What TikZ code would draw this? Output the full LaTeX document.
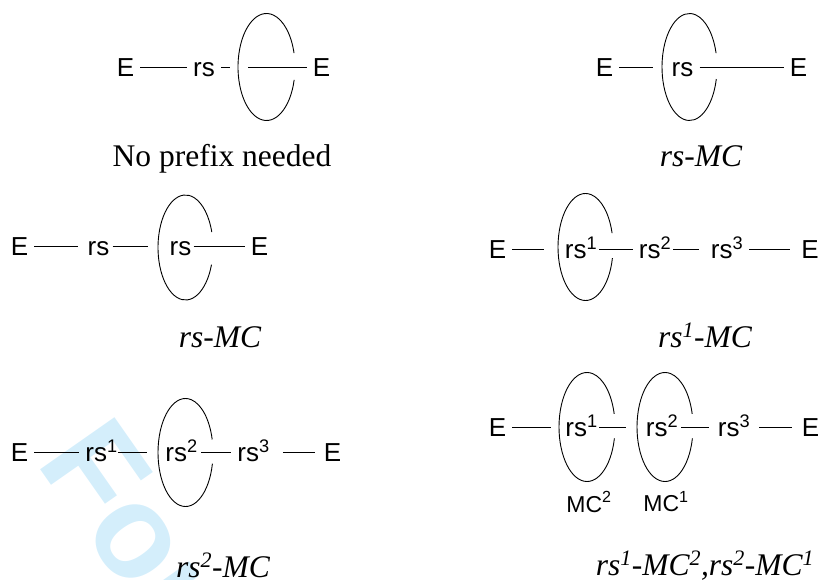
\documentclass[tikz,border=0pt]{standalone}
\usepackage{fontspec}
\setmainfont{Liberation Serif}
\setsansfont{Liberation Sans}
\definecolor{wmblue}{RGB}{212,238,251}
\begin{document}
\begin{tikzpicture}[x=1pt,y=-1pt,
  lbl/.style={font=\sffamily\fontsize{26}{26}\selectfont, inner xsep=6pt, inner ysep=0pt, text height=19pt, text depth=0pt, anchor=center},
  mclbl/.style={font=\sffamily\fontsize{23}{23}\selectfont, inner sep=0pt, anchor=center},
  capt/.style={font=\fontsize{31.5}{32}\selectfont\itshape, inner sep=0pt, anchor=base},
  link/.style={line width=0.8pt},
  loop/.style={line width=0.9pt}]
\useasboundingbox (0,0) rectangle (821,580);
% watermark
\begin{scope}
\clip (0,0) rectangle (821,580);
\node[font=\sffamily\bfseries\fontsize{132}{132}\selectfont, text=wmblue, inner sep=0pt, anchor=base west, rotate=-55] (wm) at (35,462) {For Peer Review};
\end{scope}

% ---------- Panel 1 ----------
\node[lbl] (p1e1) at (125.5,67) {E};
\node[lbl] (p1rs) at (204,67) {rs};
\node[lbl] (p1e2) at (321.5,67) {E};
\coordinate (p1ga) at (230,67);
\coordinate (p1gb) at (248,67);
\draw[link] (p1e1) -- (p1rs);
\draw[link] (p1rs) -- (p1ga);
\draw[link] (p1gb) -- (p1e2);
\draw[loop] (266.5,67) ++(14:28.5 and 53.5) arc[start angle=14, end angle=345, x radius=28.5, y radius=53.5];
\node[capt,font=\fontsize{31.5}{32}\selectfont] (c1) at (222,167) {No prefix needed};

% ---------- Panel 2 ----------
\node[lbl] (p2e1) at (604.5,67) {E};
\node[lbl] (p2rs) at (682.5,67) {rs};
\node[lbl] (p2e2) at (798.5,67) {E};
\draw[link, shorten >=12.5pt] (p2e1) -- (p2rs);
\draw[link] (p2rs) -- (p2e2);
\draw[loop] (689.5,67) ++(13:27.5 and 53.5) arc[start angle=13, end angle=345, x radius=27.5, y radius=53.5];
\node[capt] (c2) at (701,167) {rs-MC};

% ---------- Panel 3 ----------
\node[lbl] (p3e1) at (19.5,246) {E};
\node[lbl] (p3rs) at (98.5,246) {rs};
\node[lbl] (p3rs2) at (180.5,246) {rs};
\node[lbl] (p3e2) at (259.5,246) {E};
\draw[link, shorten >=3pt] (p3e1) -- (p3rs);
\draw[link, shorten <=-3pt, shorten >=15.5pt] (p3rs) -- (p3rs2);
\draw[link, shorten <=-4pt] (p3rs2) -- (p3e2);
\draw[loop] (185.5,247.5) ++(19:27.5 and 52.5) arc[start angle=19, end angle=343, x radius=27.5, y radius=52.5];
\node[capt] (c3) at (220,347) {rs-MC};

% ---------- Panel 4 ----------
\node[lbl] (p4e1) at (497.5,249) {E};
\node[lbl] (p4r1) at (581,249) {rs\textsuperscript{1}};
\node[lbl] (p4r2) at (655,249) {rs\textsuperscript{2}};
\node[lbl] (p4r3) at (727,249) {rs\textsuperscript{3}};
\node[lbl] (p4e2) at (810,249) {E};
\draw[link, shorten >=15pt] (p4e1) -- (p4r1);
\draw[link, shorten <=-4pt] (p4r1) -- (p4r2);
\draw[link, shorten <=-4pt, shorten >=6pt] (p4r2) -- (p4r3);
\draw[link, shorten >=5pt] (p4r3) -- (p4e2);
\draw[loop] (585.5,247) ++(12:27.5 and 53.5) arc[start angle=12, end angle=345, x radius=27.5, y radius=53.5];
\node[capt] (c4) at (705,347) {rs\textsuperscript{1}-MC};

% ---------- Panel 5 ----------
\node[lbl] (p5e1) at (19.5,452) {E};
\node[lbl] (p5r1) at (101.5,452) {rs\textsuperscript{1}};
\node[lbl] (p5r2) at (181.5,452) {rs\textsuperscript{2}};
\node[lbl] (p5r3) at (253.5,452) {rs\textsuperscript{3}};
\node[lbl] (p5e2) at (332.5,452) {E};
\draw[link] (p5e1) -- (p5r1);
\draw[link, shorten <=-5.5pt, shorten >=12.5pt] (p5r1) -- (p5r2);
\draw[link, shorten <=-2.5pt] (p5r2) -- (p5r3);
\draw[link, shorten <=7pt, shorten >=3pt] (p5r3) -- (p5e2);
\draw[loop] (185.5,452.5) ++(12:27.5 and 54) arc[start angle=12, end angle=346, x radius=27.5, y radius=54];
\node[capt] (c5) at (223,577) {rs\textsuperscript{2}-MC};

% ---------- Panel 6 ----------
\node[lbl] (p6e1) at (497.5,427) {E};
\node[lbl] (p6r1) at (581.5,427) {rs\textsuperscript{1}};
\node[lbl] (p6r2) at (662,427) {rs\textsuperscript{2}};
\node[lbl] (p6r3) at (734,427) {rs\textsuperscript{3}};
\node[lbl] (p6e2) at (810.5,427) {E};
\draw[link, shorten >=8pt] (p6e1) -- (p6r1);
\draw[link, shorten <=-4.5pt, shorten >=13.5pt] (p6r1) -- (p6r2);
\draw[link, shorten <=-3pt, shorten >=3pt] (p6r2) -- (p6r3);
\draw[link, shorten <=3pt, shorten >=4pt] (p6r3) -- (p6e2);
\draw[loop] (587,427) ++(12:28 and 54.5) arc[start angle=12, end angle=346, x radius=28, y radius=54.5];
\draw[loop] (665,427) ++(12:28 and 54.5) arc[start angle=12, end angle=346, x radius=28, y radius=54.5];
\node[mclbl] (p6m2) at (589,502) {MC\textsuperscript{2}};
\node[mclbl] (p6m1) at (666,502) {MC\textsuperscript{1}};
\node[capt] (c6) at (705,575) {rs\textsuperscript{1}-MC\textsuperscript{2},rs\textsuperscript{2}-MC\textsuperscript{1}};
\end{tikzpicture}
\end{document}
